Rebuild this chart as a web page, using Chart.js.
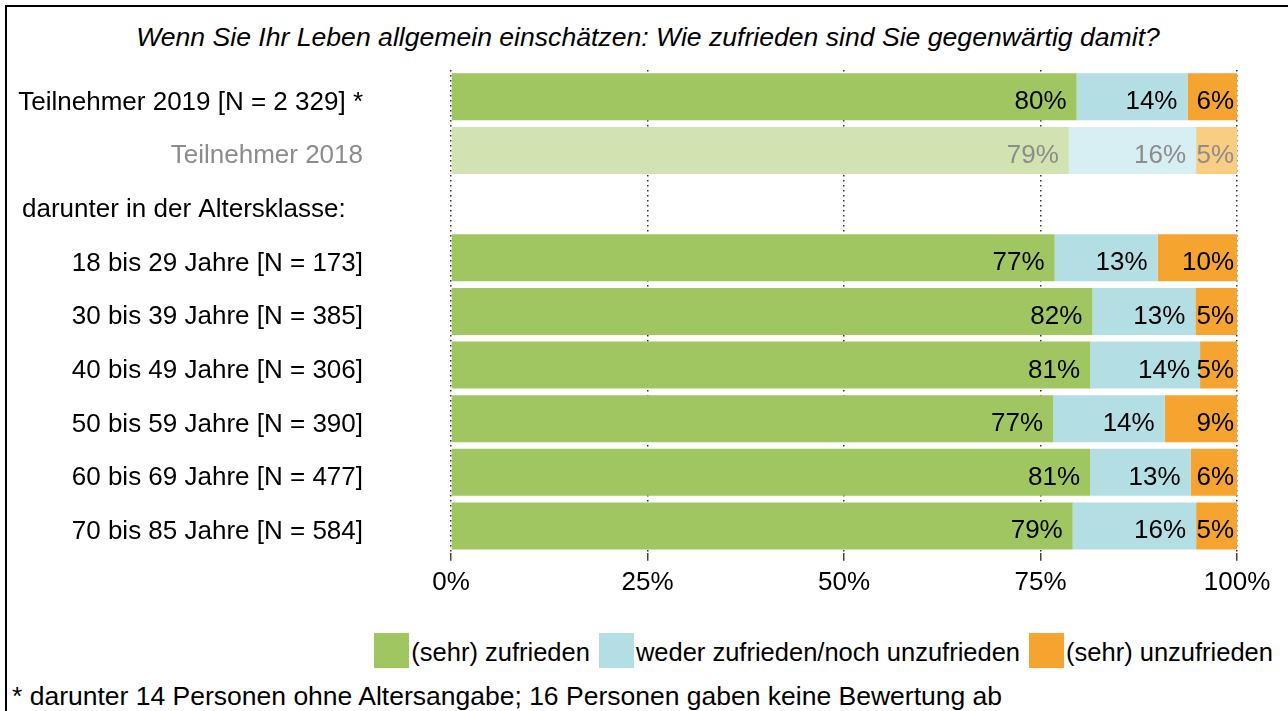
<!DOCTYPE html>
<html lang="de">
<head>
  <meta charset="UTF-8">
  <title>Lebenszufriedenheit</title>
  <script src="https://cdn.jsdelivr.net/npm/chart.js@4.4.1/dist/chart.umd.min.js"></script>
  <style>
    body { margin: 0; background: #fff; font-family: "Liberation Sans", Arial, sans-serif; }
    #wrap { position: relative; width: 1288px; height: 711px; overflow: hidden; }
    #frame { position: absolute; left: 5px; top: 5px; right: 0; bottom: 0;
             border-left: 2px solid #000; border-top: 2px solid #000; }
    #title { position: absolute; top: 22px; left: 8px; right: 0; text-align: center;
             font-style: italic; font-size: 26.6px; line-height: 30px; }
    #chartBox { position: absolute; left: 0; top: 0; width: 1288px; height: 610px; }
    #legend { position: absolute; top: 633px; right: 15px; display: flex; align-items: flex-start; }
    #legend .box { width: 35px; height: 35px; margin-right: 2px; }
    #legend .txt { font-size: 25.5px; line-height: 30px; margin-top: 4px; margin-right: 9px; }
    #legend .txt:last-child { margin-right: 0; }
    #note { position: absolute; left: 12px; top: 681px; font-size: 26.5px; line-height: 30px; white-space: nowrap; }
  </style>
</head>
<body>
<div id="wrap">
  <div id="frame"></div>
  <div id="title">Wenn Sie Ihr Leben allgemein einschätzen: Wie zufrieden sind Sie gegenwärtig damit?</div>
  <div id="chartBox"><canvas id="chart" width="1288" height="610"></canvas></div>
  <div id="legend"></div>
  <div id="note">* darunter 14 Personen ohne Altersangabe; 16 Personen gaben keine Bewertung ab</div>
</div>
<script>
  // categories (row 3 is only a heading, no bar)
  const categories = [
    'Teilnehmer 2019 [N = 2 329] *',
    'Teilnehmer 2018',
    'darunter in der Altersklasse:',
    '18 bis 29 Jahre [N = 173]',
    '30 bis 39 Jahre [N = 385]',
    '40 bis 49 Jahre [N = 306]',
    '50 bis 59 Jahre [N = 390]',
    '60 bis 69 Jahre [N = 477]',
    '70 bis 85 Jahre [N = 584]'
  ];
  const seriesNames = ['(sehr) zufrieden', 'weder zufrieden/noch unzufrieden', '(sehr) unzufrieden'];
  const zufrieden   = [79.6, 78.6, null, 76.8, 81.6, 81.3, 76.6, 81.3, 79.1];
  const weder       = [14.1, 16.2, null, 13.1, 13.1, 14.0, 14.2, 12.8, 15.7];
  const unzufrieden = [ 6.3,  5.2, null, 10.1,  5.3,  4.7,  9.2,  5.9,  5.2];
  const xTicks = [0, 25, 50, 75, 100];

  const colors     = ['#9fc661', '#b3dfe4', '#f6a430'];
  const colorsPrev = ['#d0e3b0', '#d7eef2', '#f9ce82'];   // Teilnehmer 2018
  const PREV = 1, HEADING = 2;
  const FONT = '"Liberation Sans", Arial, sans-serif';

  // HTML legend
  const legend = document.getElementById('legend');
  seriesNames.forEach((name, i) => {
    const b = document.createElement('div');
    b.className = 'box'; b.style.background = colors[i];
    const t = document.createElement('div');
    t.className = 'txt'; t.textContent = name;
    legend.appendChild(b); legend.appendChild(t);
  });

  const rowLabels = {
    id: 'rowLabels',
    afterDraw(chart) {
      const { ctx, scales: { y } } = chart;
      ctx.save();
      ctx.font = '26px ' + FONT;
      ctx.textBaseline = 'alphabetic';
      categories.forEach((c, i) => {
        const py = y.getPixelForTick(i) + 13;
        ctx.fillStyle = i === PREV ? '#8c8c8c' : '#000';
        if (i === HEADING) { ctx.textAlign = 'left'; ctx.fillText(c, 22, py); }
        else { ctx.textAlign = 'right'; ctx.fillText(c, 363, py); }
      });
      ctx.restore();
    }
  };

  const valueLabels = {
    id: 'valueLabels',
    afterDatasetsDraw(chart) {
      const { ctx } = chart;
      ctx.save();
      ctx.font = '26px ' + FONT;
      ctx.textAlign = 'right';
      ctx.textBaseline = 'alphabetic';
      chart.data.datasets.forEach((ds, di) => {
        const meta = chart.getDatasetMeta(di);
        meta.data.forEach((bar, i) => {
          const v = ds.data[i];
          if (v == null) return;
          ctx.fillStyle = i === PREV ? '#8c8c8c' : '#000';
          const pad = di === 2 ? 3 : 10;
          ctx.fillText(Math.round(v) + '%', bar.x - pad, bar.y + 12.5);
        });
      });
      ctx.restore();
    }
  };

  const makeSet = (label, data, i) => ({
    label, data,
    backgroundColor: c => c.dataIndex === PREV ? colorsPrev[i] : colors[i],
    borderWidth: 0,
    barPercentage: 0.877,
    categoryPercentage: 1
  });

  new Chart(document.getElementById('chart'), {
    type: 'bar',
    data: {
      labels: categories,
      datasets: [
        makeSet(seriesNames[0], zufrieden, 0),
        makeSet(seriesNames[1], weder, 1),
        makeSet(seriesNames[2], unzufrieden, 2)
      ]
    },
    options: {
      indexAxis: 'y',
      responsive: false,
      animation: false,
      layout: { padding: { left: 451, right: 51, top: 70, bottom: 6 } },
      plugins: { legend: { display: false }, tooltip: { enabled: false } },
      scales: {
        x: {
          stacked: true, min: 0, max: 100,
          afterBuildTicks: s => { s.ticks = xTicks.map(v => ({ value: v })); },
          ticks: { callback: v => v + '%', color: '#000', padding: 6, font: { family: FONT, size: 26 } },
          grid: { color: '#333', lineWidth: 1.5, tickLength: 8, tickColor: '#444', tickWidth: 1.5, tickBorderDash: [] },
          border: { display: false, dash: [1.5, 3.5] }
        },
        y: { stacked: true, display: false }
      }
    },
    plugins: [rowLabels, valueLabels]
  });
</script>
</body>
</html>
